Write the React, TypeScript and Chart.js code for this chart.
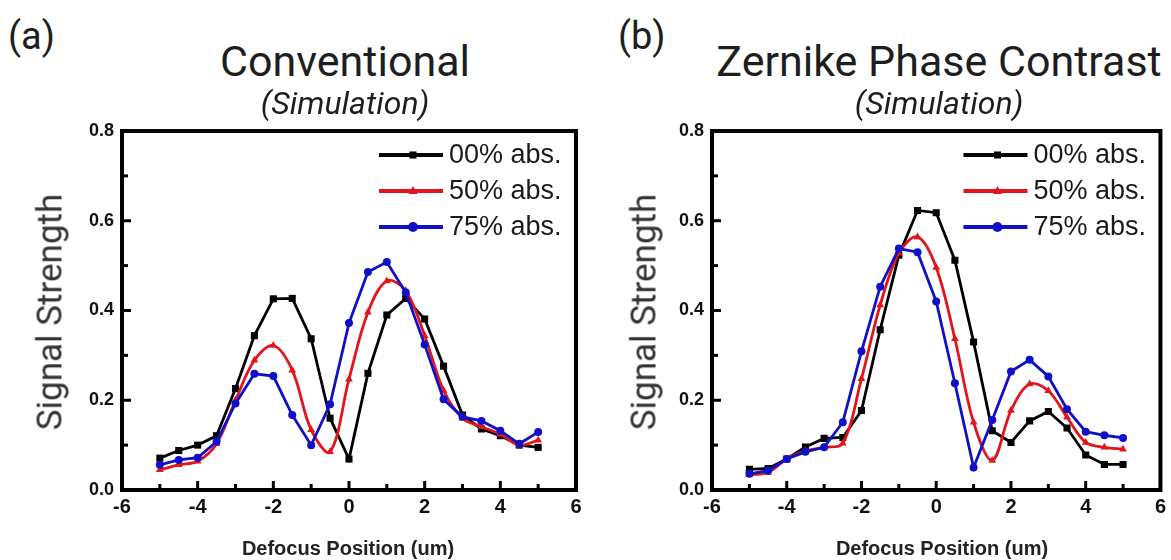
import React, { useEffect, useRef } from 'react';
import { Chart, registerables } from 'chart.js';

Chart.register(...registerables);

// ---------- data ----------
const X_POS = [-5, -4.5, -4, -3.5, -3, -2.5, -2, -1.5, -1, -0.5, 0, 0.5, 1, 1.5, 2, 2.5, 3, 3.5, 4, 4.5, 5];

const CONV_00 = [0.071, 0.088, 0.100, 0.121, 0.226, 0.344, 0.426, 0.427, 0.337, 0.160, 0.069, 0.260, 0.390, 0.427, 0.381, 0.276, 0.167, 0.136, 0.121, 0.100, 0.095];
const CONV_50 = [0.045, 0.056, 0.064, 0.103, 0.200, 0.289, 0.322, 0.267, 0.134, 0.085, 0.247, 0.396, 0.466, 0.444, 0.344, 0.222, 0.160, 0.141, 0.124, 0.100, 0.111];
const CONV_75 = [0.056, 0.067, 0.072, 0.108, 0.193, 0.259, 0.254, 0.167, 0.100, 0.191, 0.372, 0.486, 0.508, 0.440, 0.324, 0.202, 0.163, 0.154, 0.132, 0.103, 0.129];

const ZPC_00 = [0.046, 0.048, 0.069, 0.096, 0.115, 0.117, 0.177, 0.357, 0.523, 0.623, 0.618, 0.512, 0.330, 0.132, 0.106, 0.154, 0.175, 0.138, 0.078, 0.057, 0.057];
const ZPC_50 = [0.034, 0.039, 0.069, 0.087, 0.095, 0.104, 0.248, 0.412, 0.528, 0.564, 0.496, 0.337, 0.151, 0.066, 0.177, 0.236, 0.221, 0.162, 0.106, 0.095, 0.091];
const ZPC_75 = [0.036, 0.043, 0.069, 0.085, 0.095, 0.151, 0.309, 0.453, 0.538, 0.530, 0.420, 0.238, 0.050, 0.156, 0.264, 0.290, 0.253, 0.180, 0.130, 0.122, 0.116];

const SERIES_LABELS = ['00% abs.', '50% abs.', '75% abs.'];
const SERIES_COLORS = ['#000000', '#e3141b', '#1010c8'];
const SERIES_MARKERS = ['rect', 'triangle', 'circle'];

const X_MAJOR_TICKS = [-6, -4, -2, 0, 2, 4, 6];
const X_MINOR_TICKS = [-5, -3, -1, 1, 3, 5];
const Y_MAJOR_TICKS = [0, 0.2, 0.4, 0.6, 0.8];
const Y_MINOR_TICKS = [0.1, 0.3, 0.5, 0.7];

const PANEL_TITLES = ['Conventional', 'Zernike Phase Contrast'];
const PANEL_TAGS = ['(a)', '(b)'];
const SUBTITLE = '(Simulation)';
const X_TITLE = 'Defocus Position (um)';
const Y_TITLE = 'Signal Strength';

// ---------- plugin: frame, inside ticks, legend ----------
function drawMarker(ctx: CanvasRenderingContext2D, kind: string, x: number, y: number, r: number) {
  ctx.beginPath();
  if (kind === 'rect') {
    const s = r * Math.SQRT1_2;
    ctx.rect(x - s, y - s, 2 * s, 2 * s);
  } else if (kind === 'triangle') {
    ctx.moveTo(x, y - r);
    ctx.lineTo(x + r * 0.9, y + r * 0.6);
    ctx.lineTo(x - r * 0.9, y + r * 0.6);
    ctx.closePath();
  } else {
    ctx.arc(x, y, r, 0, Math.PI * 2);
  }
  ctx.fill();
}

const framePlugin = {
  id: 'frameTicksLegend',
  afterDraw(chart: any) {
    const { ctx, chartArea: a, scales } = chart;
    ctx.save();
    ctx.strokeStyle = '#000';
    ctx.lineWidth = 4;
    ctx.strokeRect(a.left, a.top, a.right - a.left, a.bottom - a.top);

    ctx.lineWidth = 3;
    const tick = (x1: number, y1: number, x2: number, y2: number) => {
      ctx.beginPath();
      ctx.moveTo(x1, y1);
      ctx.lineTo(x2, y2);
      ctx.stroke();
    };
    X_MAJOR_TICKS.forEach((v) => { const x = scales.x.getPixelForValue(v); tick(x, a.bottom, x, a.bottom - 9); });
    X_MINOR_TICKS.forEach((v) => { const x = scales.x.getPixelForValue(v); tick(x, a.bottom, x, a.bottom - 6); });
    Y_MAJOR_TICKS.forEach((v) => { const y = scales.y.getPixelForValue(v); tick(a.left, y, a.left + 9, y); });
    Y_MINOR_TICKS.forEach((v) => { const y = scales.y.getPixelForValue(v); tick(a.left, y, a.left + 6, y); });

    // legend
    const lx0 = a.right - 197;
    const lx1 = a.right - 133;
    const tx = a.right - 127;
    chart.data.datasets.forEach((ds: any, i: number) => {
      const y = a.top + 24 + i * 36;
      ctx.strokeStyle = ds.borderColor;
      ctx.fillStyle = ds.borderColor;
      ctx.lineWidth = 4;
      tick(lx0, y, lx1, y);
      drawMarker(ctx, ds.pointStyle, (lx0 + lx1) / 2 + 2, y, 5);
      ctx.fillStyle = '#1a1a1a';
      ctx.font = '27px "Liberation Sans", Arial, sans-serif';
      ctx.textBaseline = 'middle';
      ctx.textAlign = 'left';
      ctx.fillText(ds.label, tx, y + 1);
    });
    ctx.restore();
  },
};

// ---------- chart component ----------
type PlotProps = {
  series: number[][];
  left: number;
  top: number;
  width: number;
  height: number;
  padRight: number;
};

function Plot({ series, left, top, width, height, padRight }: PlotProps) {
  const ref = useRef<HTMLCanvasElement>(null);
  useEffect(() => {
    if (!ref.current) return;
    const datasets = series.map((vals, i) => ({
      label: SERIES_LABELS[i],
      data: X_POS.map((x, j) => ({ x, y: vals[j] })),
      borderColor: SERIES_COLORS[i],
      backgroundColor: SERIES_COLORS[i],
      pointBackgroundColor: SERIES_COLORS[i],
      pointBorderColor: SERIES_COLORS[i],
      pointStyle: SERIES_MARKERS[i],
      pointRadius: i === 1 ? 4.5 : i === 0 ? 5 : 4,
      pointBorderWidth: 0,
      borderWidth: 2.8,
      tension: i === 1 ? 0.35 : 0,
      order: 3 - i,
    }));
    const chart = new Chart(ref.current, {
      type: 'line',
      data: { datasets },
      options: {
        animation: false,
        responsive: false,
        maintainAspectRatio: false,
        font: { family: 'Liberation Sans', size: 19, weight: 'bold' },
        layout: { padding: { left: 0, top: 31, right: padRight, bottom: 20 } },
        plugins: { legend: { display: false }, tooltip: { enabled: false } },
        scales: {
          x: {
            type: 'linear',
            min: -6,
            max: 6,
            grid: { display: false, drawTicks: false },
            border: { display: false },
            afterFit: (s: any) => { s.height = 30; },
            afterBuildTicks: (s: any) => { s.ticks = X_MAJOR_TICKS.map((v) => ({ value: v })); },
            ticks: {
              font: { family: 'Liberation Sans', size: 20, weight: 'bold' },
              color: '#111',
              padding: 5,
              maxRotation: 0,
              callback: (v: any) => String(v),
            },
          },
          y: {
            type: 'linear',
            min: 0,
            max: 0.8,
            grid: { display: false, drawTicks: false },
            border: { display: false },
            afterFit: (s: any) => { s.width = 62; },
            afterBuildTicks: (s: any) => { s.ticks = Y_MAJOR_TICKS.map((v) => ({ value: v })); },
            ticks: {
              font: { family: 'Liberation Sans', size: 18, weight: 'bold' },
              color: '#111',
              padding: 8,
              callback: (v: any) => Number(v).toFixed(1),
            },
          },
        },
      } as any,
      plugins: [framePlugin],
    });
    return () => chart.destroy();
  }, []);
  return (
    <canvas
      ref={ref}
      width={width}
      height={height}
      style={{ position: 'absolute', left, top, width, height }}
    />
  );
}

const txt = (style: React.CSSProperties, content: string, key?: string) => (
  <div key={key} style={{ position: 'absolute', whiteSpace: 'nowrap', lineHeight: 1, color: '#1e1e1e', fontFamily: 'Roboto, "Noto Sans", sans-serif', ...style }}>
    {content}
  </div>
);

export default function App() {
  const panels = [
    { series: [CONV_00, CONV_50, CONV_75], canvasLeft: 60, width: 530, padRight: 14, cx: 345, tagX: 8, yTitleX: 50 },
    { series: [ZPC_00, ZPC_50, ZPC_75], canvasLeft: 650, width: 521, padRight: 6, cx: 939, tagX: 618, yTitleX: 644 },
  ];
  return (
    <div style={{ position: 'absolute', left: 0, top: 0, width: 1171, height: 560, background: '#fff', overflow: 'hidden' }}>
      {panels.map((p, i) => (
        <React.Fragment key={i}>
          <Plot series={p.series} left={p.canvasLeft} top={100} width={p.width} height={440} padRight={p.padRight} />
          {txt({ left: p.tagX, top: 17, fontSize: 38 }, PANEL_TAGS[i])}
          {txt({ left: p.cx, top: 40, fontSize: 43, transform: 'translateX(-50%)' }, PANEL_TITLES[i])}
          {txt({ left: p.cx, top: 87, fontSize: 32, fontStyle: 'italic', transform: 'translateX(-50%)' }, SUBTITLE)}
          {txt({ left: p.yTitleX, top: 312, fontSize: 35, color: '#333', transform: 'translate(-50%, -50%) rotate(-90deg)' }, Y_TITLE)}
          {txt({ left: p.cx + 3, top: 538, fontSize: 20, fontWeight: 'bold', fontFamily: '"Liberation Sans", Arial, sans-serif', color: '#222', transform: 'translateX(-50%)' }, X_TITLE)}
        </React.Fragment>
      ))}
    </div>
  );
}
